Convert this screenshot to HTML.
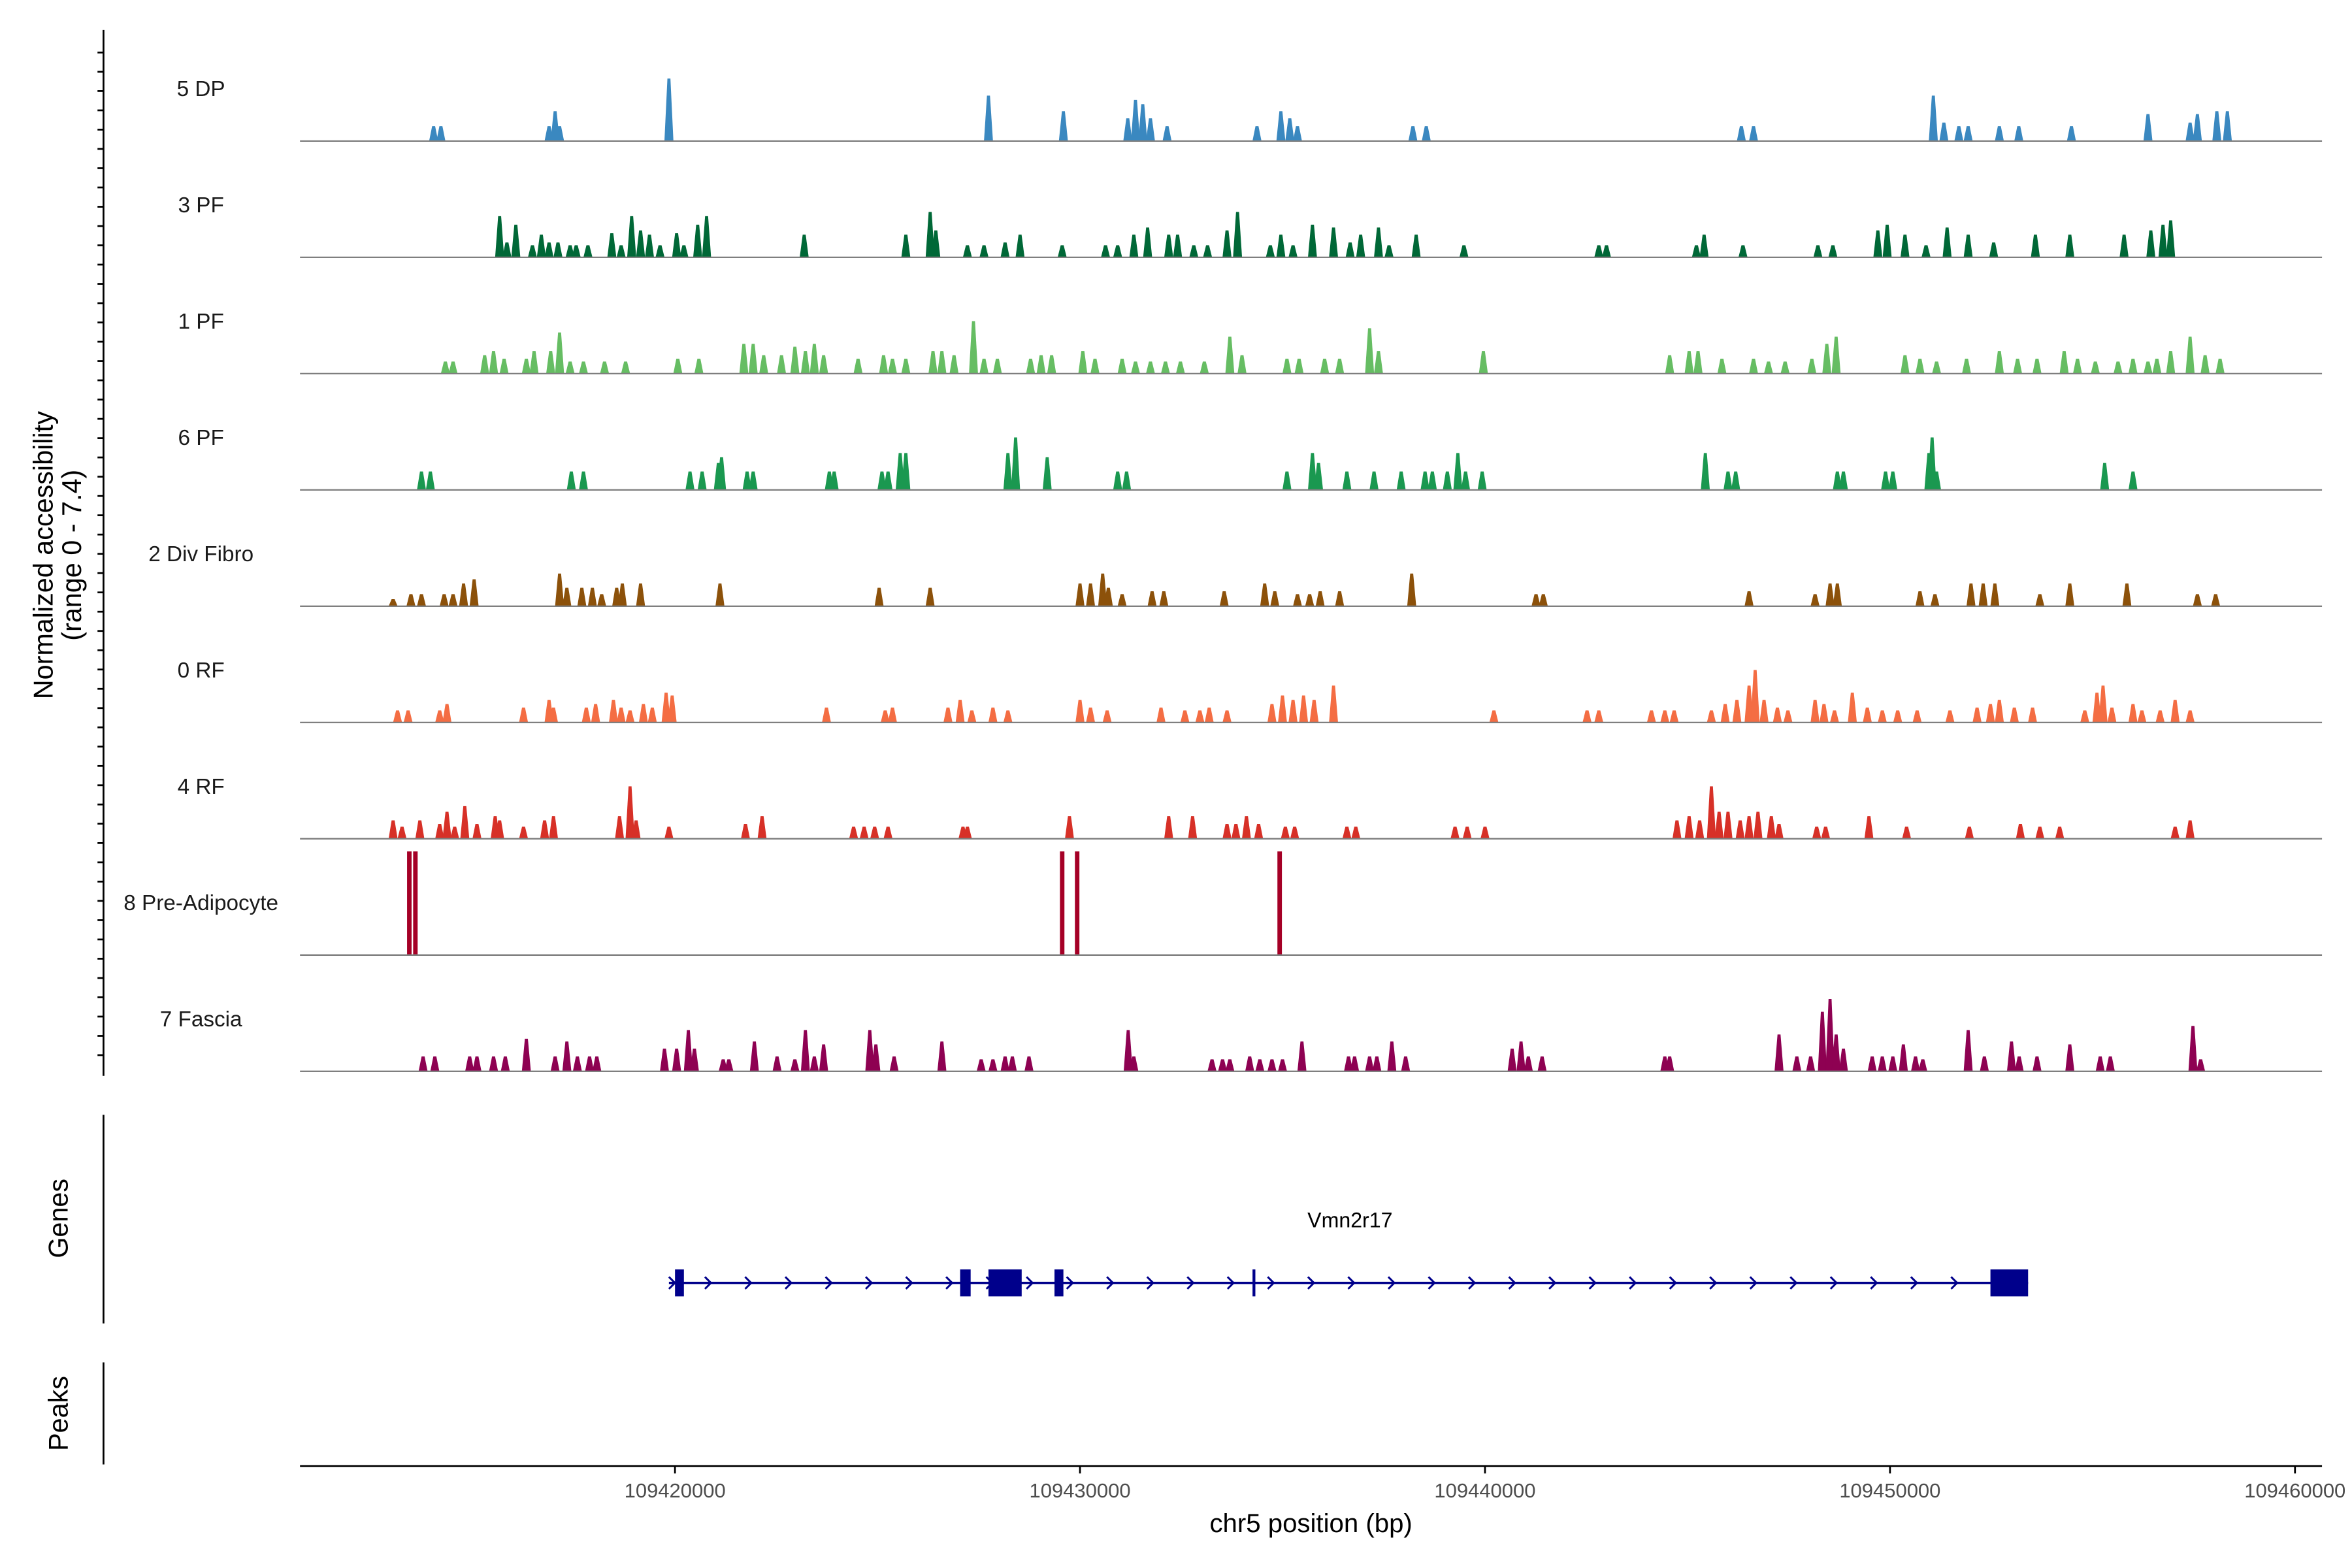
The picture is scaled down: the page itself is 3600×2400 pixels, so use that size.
<!DOCTYPE html>
<html><head><meta charset="utf-8"><style>
html,body{margin:0;padding:0;background:#fff;}
svg{display:block;}
text{font-family:"Liberation Sans",Arial,sans-serif;}
</style></head>
<body>
<svg id="chart" width="3600" height="2400" viewBox="0 0 1568 1045" preserveAspectRatio="none" xmlns="http://www.w3.org/2000/svg">
<rect x="0" y="0" width="1568" height="1045" fill="#fff"/>
<g id="tracks"></g>
<g id="gene"></g>
<g id="axes"></g>
</svg>
<script>
// Positions in kb offset from 109,410,000 bp; heights in normalized accessibility
const trackNames = ["5 DP","3 PF","1 PF","6 PF","2 Div Fibro","0 RF","4 RF","8 Pre-Adipocyte","7 Fascia"];
const trackColors = ["#3a88c0","#006837","#66bd63","#1a9850","#8c510a","#f46d43","#d73027","#a50026","#8e0152"];
const pos5DP = [4.04,4.22,6.89,7.04,7.15,9.85,17.74,19.59,21.18,21.37,21.55,21.74,22.15,24.37,24.96,25.18,25.37,28.22,28.55,36.33,36.63,41.07,41.33,41.70,41.93,42.70,43.18,44.48,46.37,47.41,47.59,48.07,48.33];
const val5DP = [1.05,1.05,1.05,2.1,1.05,4.4,3.2,2.1,1.6,2.9,2.6,1.6,1.05,1.05,2.1,1.6,1.05,1.05,1.05,1.05,1.05,3.2,1.3,1.05,1.05,1.05,1.05,1.05,1.9,1.3,1.9,2.1,2.1];
const pos3PF = [5.67,5.85,6.07,6.48,6.70,6.89,7.11,7.41,7.56,7.85,8.44,8.67,8.93,9.15,9.37,9.63,10.04,10.22,10.56,10.78,13.19,15.70,16.30,16.44,17.22,17.63,18.15,18.52,19.56,20.63,20.93,21.33,21.67,22.19,22.41,22.81,23.15,23.63,23.89,24.70,24.96,25.26,25.74,26.26,26.67,26.93,27.37,27.63,28.30,29.48,32.81,33.00,35.22,35.41,36.37,38.22,38.59,39.70,39.93,40.37,40.89,41.41,41.93,42.56,43.59,44.44,45.78,46.44,46.74,46.93];
const val3PF = [2.9,1.05,2.3,0.85,1.6,1.05,1.05,0.85,0.85,0.85,1.7,0.85,2.9,1.9,1.6,0.85,1.7,0.85,2.3,2.9,1.6,1.6,3.2,1.9,0.85,0.85,1.05,1.6,0.85,0.85,0.85,1.6,2.1,1.6,1.6,0.85,0.85,1.9,3.2,0.85,1.6,0.85,2.3,2.1,1.05,1.6,2.1,0.85,1.6,0.85,0.85,0.85,0.85,1.6,0.85,0.85,0.85,1.9,2.3,1.6,0.85,2.1,1.6,1.05,1.6,1.6,1.6,1.9,2.3,2.6];
const pos1PF = [4.33,4.52,5.30,5.52,5.78,6.33,6.52,6.93,7.15,7.41,7.74,8.26,8.78,10.07,10.59,11.70,11.93,12.19,12.63,12.96,13.22,13.44,13.67,14.52,15.15,15.37,15.70,16.37,16.59,16.89,17.37,17.63,17.96,18.78,19.04,19.30,20.07,20.37,21.04,21.37,21.74,22.11,22.48,23.07,23.70,24.00,25.11,25.41,26.04,26.41,27.15,27.37,29.96,34.56,35.04,35.26,35.85,36.63,37.00,37.41,38.07,38.44,38.67,40.37,40.74,41.15,41.89,42.70,43.15,43.63,44.30,44.63,45.07,45.63,46.00,46.37,46.59,46.93,47.41,47.78,48.15];
const val1PF = [0.85,0.85,1.3,1.6,1.05,1.05,1.6,1.6,2.9,0.85,0.85,0.85,0.85,1.05,1.05,2.1,2.1,1.3,1.3,1.9,1.6,2.1,1.3,1.05,1.3,1.05,1.05,1.6,1.6,1.3,3.7,1.05,1.05,1.05,1.3,1.3,1.6,1.05,1.05,0.85,0.85,0.85,0.85,0.85,2.6,1.3,1.05,1.05,1.05,1.05,3.2,1.6,1.6,1.3,1.6,1.6,1.05,1.05,0.85,0.85,1.05,2.1,2.6,1.3,1.05,0.85,1.05,1.6,1.05,1.05,1.6,1.05,0.85,0.85,1.05,0.85,1.05,1.6,2.6,1.3,1.05];
const pos6PF = [3.74,3.96,7.44,7.74,10.37,10.67,11.07,11.15,11.78,11.93,13.81,13.93,15.11,15.26,15.56,15.70,18.22,18.41,19.19,20.93,21.15,25.11,25.74,25.89,26.59,27.26,27.93,28.52,28.70,29.07,29.33,29.52,29.93,35.44,36.00,36.19,38.70,38.85,39.89,40.07,40.96,41.04,41.15,45.30,46.00];
const val6PF = [1.3,1.3,1.3,1.3,1.3,1.3,1.9,2.3,1.3,1.3,1.3,1.3,1.3,1.3,2.6,2.6,2.6,3.7,2.3,1.3,1.3,1.3,2.6,1.9,1.3,1.3,1.3,1.3,1.3,1.3,2.6,1.3,1.3,2.6,1.3,1.3,1.3,1.3,1.3,1.3,2.6,3.7,1.3,1.9,1.3];
const posDiv = [3.04,3.48,3.74,4.30,4.52,4.78,5.04,7.15,7.33,7.70,7.96,8.19,8.56,8.70,9.15,11.11,15.04,16.30,20.00,20.26,20.56,20.70,21.04,21.78,22.07,23.56,24.56,24.81,25.37,25.67,25.93,26.41,28.19,31.26,31.44,36.52,38.15,38.52,38.70,40.74,41.11,42.00,42.30,42.59,43.70,44.44,45.85,47.59,48.04];
const valDiv = [0.5,0.85,0.85,0.85,0.85,1.6,1.9,2.3,1.3,1.3,1.3,0.85,1.3,1.6,1.6,1.6,1.3,1.3,1.6,1.6,2.3,1.3,0.85,1.05,1.05,1.05,1.6,1.05,0.85,0.85,1.05,1.05,2.3,0.85,0.85,1.05,0.85,1.6,1.6,1.05,0.85,1.6,1.6,1.6,0.85,1.6,1.6,0.85,0.85];
const pos0RF = [3.15,3.41,4.19,4.37,6.26,6.89,7.00,7.81,8.04,8.48,8.67,8.89,9.22,9.44,9.78,9.93,13.74,15.19,15.37,16.74,17.04,17.33,17.85,18.22,20.00,20.26,20.67,22.00,22.59,22.96,23.19,23.63,24.74,25.00,25.26,25.52,25.78,26.26,30.22,32.52,32.81,34.11,34.44,34.67,35.59,35.93,36.22,36.52,36.67,36.89,37.22,37.48,38.15,38.37,38.63,39.07,39.44,39.81,40.19,40.67,41.48,42.15,42.48,42.70,43.07,43.52,44.81,45.11,45.26,45.48,46.00,46.22,46.67,47.04,47.41];
const val0RF = [0.85,0.85,0.85,1.3,1.05,1.6,1.05,1.05,1.3,1.6,1.05,0.85,1.3,1.05,2.1,1.9,1.05,0.85,1.05,1.05,1.6,0.85,1.05,0.85,1.6,1.05,0.85,1.05,0.85,0.85,1.05,0.85,1.3,1.9,1.6,1.9,1.6,2.6,0.85,0.85,0.85,0.85,0.85,0.85,0.85,1.3,1.6,2.6,3.7,1.6,1.05,0.85,1.6,1.3,0.85,2.1,1.05,0.85,0.85,0.85,0.85,1.05,1.3,1.6,1.05,1.05,0.85,2.1,2.6,1.05,1.3,0.85,0.85,1.6,0.85];
const pos4RF = [3.04,3.26,3.70,4.19,4.37,4.56,4.81,5.11,5.56,5.67,6.26,6.78,7.00,8.63,8.89,9.04,9.85,11.74,12.15,14.41,14.67,14.93,15.26,17.11,17.22,19.74,22.19,22.78,23.63,23.85,24.11,24.41,25.07,25.30,26.59,26.81,29.26,29.56,30.00,34.74,35.04,35.30,35.59,35.78,36.00,36.30,36.52,36.74,37.07,37.26,38.19,38.41,39.48,40.41,41.96,43.22,43.70,44.19,47.04,47.41];
const val4RF = [1.3,0.85,1.3,1.05,1.9,0.85,2.3,1.05,1.6,1.3,0.85,1.3,1.6,1.6,3.7,1.3,0.85,1.05,1.6,0.85,0.85,0.85,0.85,0.85,0.85,1.6,1.6,1.6,1.05,1.05,1.6,1.05,0.85,0.85,0.85,0.85,0.85,0.85,0.85,1.3,1.6,1.3,3.7,1.9,1.9,1.3,1.6,1.9,1.6,1.05,0.85,0.85,1.6,0.85,0.85,1.05,0.85,0.85,0.85,1.3];
const posPre = [3.44,3.59,19.56,19.93,24.93];
const valPre = [7.3,7.3,7.3,7.3,7.3];
const posFas = [3.78,4.07,4.93,5.11,5.52,5.81,6.33,7.04,7.33,7.59,7.89,8.07,9.74,10.04,10.33,10.48,11.19,11.33,11.96,12.52,12.96,13.22,13.44,13.67,14.81,14.96,15.41,16.59,17.56,17.85,18.15,18.33,18.74,21.19,21.33,23.26,23.52,23.70,24.19,24.44,24.74,25.00,25.48,26.63,26.78,27.15,27.33,27.70,28.04,30.67,30.89,31.07,31.41,34.44,34.56,37.26,37.70,38.04,38.33,38.52,38.67,38.85,39.56,39.81,40.07,40.33,40.63,40.81,41.93,42.33,43.00,43.19,43.63,44.44,45.19,45.44,47.48,47.67];
const valFas = [1.05,1.05,1.05,1.05,1.05,1.05,2.3,1.05,2.1,1.05,1.05,1.05,1.6,1.6,2.9,1.6,0.85,0.85,2.1,1.05,0.85,2.9,1.05,1.9,2.9,1.9,1.05,2.1,0.85,0.85,1.05,1.05,1.05,2.9,1.05,0.85,0.85,0.85,1.05,0.85,0.85,0.85,2.1,1.05,1.05,1.05,1.05,2.1,1.05,1.6,2.1,1.05,1.05,1.05,1.05,2.6,1.05,1.05,4.2,5.1,2.6,1.6,1.05,1.05,1.05,1.9,1.05,0.85,2.9,1.05,2.1,1.05,1.05,1.9,1.05,1.05,3.2,0.85];
const trackPositions = [pos5DP,pos3PF,pos1PF,pos6PF,posDiv,pos0RF,pos4RF,posPre,posFas];
const trackValues = [val5DP,val3PF,val1PF,val6PF,valDiv,val0RF,val4RF,valPre,valFas];
// gene model (kb offsets)
const geneStart = 9.85, geneEnd = 43.41;
const exonStarts = [10.00,17.04,17.74,19.37,24.26,42.48];
const exonEnds = [10.22,17.30,18.56,19.59,24.33,43.41];
const geneName = "Vmn2r17";
const xTicks = [109420000,109430000,109440000,109450000,109460000];
const yMax = 7.4;

const NS = "http://www.w3.org/2000/svg";
function mk(tag, attrs, parent){const e=document.createElementNS(NS,tag);for(const k in attrs)e.setAttribute(k,attrs[k]);if(parent)parent.appendChild(e);return e;}
function xScale(kb){return 450 + ((109410000 + kb*1000) - 109420000) * 0.027;}
function xBp(bp){return 450 + (bp - 109420000) * 0.027;}
const baselines = [94,171.5,249,326.5,404,481.5,559,636.5,714];
const trackH = 70;
function yScale(v, base){return base - v/yMax*trackH;}

const gT = document.getElementById('tracks');
trackNames.forEach((name,i)=>{
  const base = baselines[i];
  const g = mk('g',{},gT);
  
  
  const lab = mk('text',{x:134,y:base-30,'font-size':14.5,'text-anchor':'middle',fill:'#1a1a1a'},g);
  lab.textContent = name;
  
  
  const ps = trackPositions[i], vs = trackValues[i];
  const isBar = name.indexOf('Pre-Adipocyte')>=0;
  ps.forEach((p,j)=>{
    const cx = xScale(p), yt = yScale(vs[j], base);
    let el;
    if(isBar){
      el = mk('rect',{x:cx-1.5,y:yt,width:3,height:base-yt,fill:trackColors[i]},g);
    } else {
      el = mk('polygon',{points:`${cx-3},${base} ${cx-1},${yt} ${cx+1},${yt} ${cx+3},${base}`,fill:trackColors[i]},g);
    }
    
    
  });
  const bl = mk('line',{x1:200,x2:1548,y1:base,y2:base,stroke:'#7f7f7f','stroke-width':1},g);
  
  
});

// gene
const gG = document.getElementById('gene');
const gy = 855;
const gl = mk('line',{x1:xScale(geneStart),x2:xScale(geneEnd),y1:gy,y2:gy,stroke:'#00008b','stroke-width':1.5},gG);


for(let x=xScale(geneStart)+27; x<xScale(geneEnd)-10; x+=26.8){
  const ch = mk('polyline',{points:`${x-3},${gy-4} ${x+1},${gy} ${x-3},${gy+4}`,fill:'none',stroke:'#00008b','stroke-width':1.3},gG);
  
  
}
const ch0 = mk('polyline',{points:`${xScale(geneStart)},${gy-4} ${xScale(geneStart)+4},${gy} ${xScale(geneStart)},${gy+4}`,fill:'none',stroke:'#00008b','stroke-width':1.3},gG);


exonStarts.forEach((s,i)=>{
  const x1=xScale(s), x2=xScale(exonEnds[i]);
  const r = mk('rect',{x:x1,y:gy-9,width:Math.max(x2-x1,1.5),height:18,fill:'#00008b'},gG);
  
  
});
const gn = mk('text',{x:900,y:818,'font-size':14,'text-anchor':'middle',fill:'#000'},gG);
gn.textContent = geneName;



// axes
const gA = document.getElementById('axes');
function line(a,name){const l=mk('line',Object.assign({stroke:'#000','stroke-width':1.2},a),gA);return l;}
line({x1:69,x2:69,y1:20,y2:717},'y-axis-line');
for(let k=0;k<53;k++){const y=35+k*12.85; line({x1:65,x2:69,y1:y,y2:y},'y-axis-tick');}
line({x1:69,x2:69,y1:743,y2:882},'genes-axis-line');
line({x1:69,x2:69,y1:908,y2:976},'peaks-axis-line');
line({x1:200,x2:1548,y1:977,y2:977},'x-axis-line');
xTicks.forEach(t=>{
  const x=xBp(t);
  line({x1:x,x2:x,y1:977,y2:982},'x-axis-tick');
  const tx=mk('text',{x:x,y:998,'font-size':13.5,'text-anchor':'middle',fill:'#4d4d4d'},gA);
  tx.textContent=String(t);
  
  
});
function rotText(x,y,str,size,name){const t=mk('text',{x:x,y:y,'font-size':size,'text-anchor':'middle',fill:'#000',transform:`rotate(-90 ${x} ${y})`},gA);t.textContent=str;return t;}
rotText(35,370,'Normalized accessibility',18,'y-axis-title');
rotText(54,370,'(range 0 - 7.4)',18,'y-axis-subtitle');
rotText(45,812,'Genes',18,'genes-axis-title');
rotText(45,942,'Peaks',18,'peaks-axis-title');
const xt=mk('text',{x:874,y:1021,'font-size':17.5,'text-anchor':'middle',fill:'#000'},gA);
xt.textContent='chr5 position (bp)';


</script>
</body></html>
